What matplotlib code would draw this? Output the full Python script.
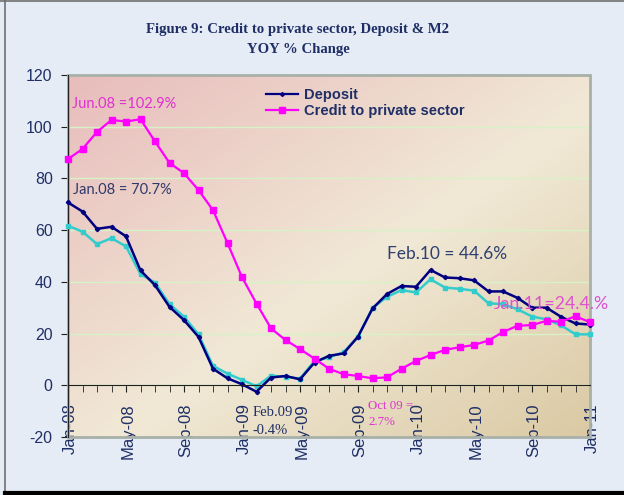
import matplotlib
matplotlib.use('Agg')
import matplotlib.pyplot as plt
import matplotlib.transforms as mtransforms
import numpy as np
from matplotlib.patches import Rectangle
from matplotlib.lines import Line2D

plt.rcParams['axes.unicode_minus'] = False

month_labels = ['Jan-08', 'Feb-08', 'Mar-08', 'Apr-08', 'May-08', 'Jun-08', 'Jul-08', 'Aug-08',
                'Sep-08', 'Oct-08', 'Nov-08', 'Dec-08', 'Jan-09', 'Feb-09', 'Mar-09', 'Apr-09',
                'May-09', 'Jun-09', 'Jul-09', 'Aug-09', 'Sep-09', 'Oct-09', 'Nov-09', 'Dec-09',
                'Jan-10', 'Feb-10', 'Mar-10', 'Apr-10', 'May-10', 'Jun-10', 'Jul-10', 'Aug-10',
                'Sep-10', 'Oct-10', 'Nov-10', 'Dec-10', 'Jan-11']
tick_labels = ['Jan-08', 'May-08', 'Sep-08', 'Jan-09', 'May-09', 'Sep-09',
               'Jan-10', 'May-10', 'Sep-10', 'Jan-11']

deposit = [70.7, 67.2, 60.5, 61.3, 57.6, 44.4, 38.7, 30.3, 25.2, 18.7, 6.4, 2.7, 0.4, -2.5,
           3.0, 3.6, 2.3, 8.8, 11.4, 12.3, 18.8, 29.7, 35.3, 38.4, 38.1, 44.6, 41.7, 41.4,
           40.6, 36.3, 36.3, 33.8, 30.0, 30.0, 26.5, 23.9, 23.5]
credit = [87.5, 91.4, 98.0, 102.6, 102.0, 102.9, 94.3, 86.0, 82.0, 75.5, 67.7, 55.0, 41.8,
          31.6, 22.0, 17.5, 14.0, 10.3, 6.4, 4.3, 3.6, 2.7, 3.1, 6.4, 9.4, 11.7, 13.7, 14.7,
          15.6, 17.3, 20.6, 23.0, 23.3, 24.9, 24.6, 26.7, 24.4]
m2 = [61.7, 59.4, 54.6, 56.9, 53.7, 43.0, 39.7, 31.4, 26.5, 19.7, 7.5, 4.5, 2.1, -0.4, 3.7,
      3.3, 2.6, 9.4, 10.8, 12.8, 18.8, 29.9, 34.2, 36.8, 35.9, 41.0, 37.8, 37.3, 36.6, 31.7,
      31.4, 29.4, 26.6, 25.5, 23.2, 19.7, 19.7]

NAVY = '#1F2F66'
MAG = '#E030D0'

fig = plt.figure(figsize=(6.24, 4.95), dpi=100)
fig.patch.set_facecolor('#E6ECF5')

W, H = 624, 495
ax = fig.add_axes([68 / W, 1 - 437 / H, (590 - 68) / W, (437 - 75) / H])
ax.set_facecolor('none')

# gradient background of plot area
n = 200
yy, xx = np.mgrid[0:1:n * 1j, 0:1:n * 1j]
t = (xx + yy) / 2.0
stops = np.array([0.0, 0.55, 1.0])
cols = np.array([[232, 188, 188], [241, 233, 214], [218, 201, 163]]) / 255.0
img = np.zeros((n, n, 3))
for c in range(3):
    img[..., c] = np.interp(t, stops, cols[:, c])
ax.imshow(img, extent=[0, 1, 0, 1], transform=ax.transAxes, aspect='auto',
          zorder=0, origin='upper')
ax.add_patch(Rectangle((0, 0), 1, 1, transform=ax.transAxes, fill=False,
                       edgecolor='#A8B0A8', lw=2.0, zorder=1, clip_on=False))

x = np.arange(len(month_labels))
ax.set_xlim(0, len(month_labels) - 1)
ax.set_ylim(-20, 120)

ax.yaxis.grid(True, color='#D6F2C6', lw=1.0, zorder=1)
ax.set_axisbelow(True)

ax.plot(x, m2, color='#33CCCC', lw=1.8, marker='s', ms=2.5, zorder=3, clip_on=False)
ax.plot(x, deposit, color='#000080', lw=1.8, marker='D', ms=2.2, zorder=4, clip_on=False)
ax.plot(x, credit, color='#FF00FF', lw=1.6, marker='s', ms=4, zorder=5, clip_on=False)

for s in ['top', 'right']:
    ax.spines[s].set_visible(False)
ax.spines['bottom'].set_position(('data', 0))
ax.spines['bottom'].set_color('#202020')
ax.spines['left'].set_color('#202020')
ax.spines['bottom'].set_zorder(6)

ax.set_xticks(x, minor=True)
ax.set_xticks([month_labels.index(m) for m in tick_labels])
ax.tick_params(axis='x', which='both', direction='out', length=5, color='#202020')
ax.tick_params(axis='x', which='major', pad=8)
ax.set_xticklabels(tick_labels, rotation=90, fontsize=12, color=NAVY,
                   family='Liberation Sans')
offset = mtransforms.ScaledTranslation(2 / 100, 0, fig.dpi_scale_trans)
for tk in ax.xaxis.get_major_ticks():
    tk.label1.set_transform(tk.label1.get_transform() + offset)
ax.set_yticks(np.arange(-20, 121, 20))
ax.tick_params(axis='y', length=5, color='#202020', labelsize=11.5, labelcolor=NAVY, pad=6)
for lab in ax.get_yticklabels():
    lab.set_family('Liberation Sans')

# legend
handles = [Line2D([], [], color='#000080', lw=1.6, marker='D', ms=2),
           Line2D([], [], color='#FF00FF', lw=1.6, marker='s', ms=4)]
leg = fig.legend(handles, ['Deposit', 'Credit to private sector'], loc='upper left',
                 bbox_to_anchor=(266 / W, 1 - 88 / H), frameon=False, handlelength=2.2,
                 handletextpad=0.4, labelspacing=0.12, borderpad=0, borderaxespad=0,
                 prop={'family': 'Liberation Sans', 'weight': 'bold', 'size': 10.5})
for txt in leg.get_texts():
    txt.set_color(NAVY)

# title
fig.text(298 / W, 1 - 29 / H, 'Figure 9: Credit to private sector, Deposit & M2',
         ha='center', va='center', family='Liberation Serif', weight='bold',
         fontsize=10.6, color=NAVY)
fig.text(298 / W, 1 - 50 / H, 'YOY % Change', ha='center', va='center',
         family='Liberation Serif', weight='bold', fontsize=10.6, color=NAVY)

# annotations
ax.text(0.28, 108.8, 'Jun.08 =102.9%', color=MAG, fontsize=10.5, family='Lato',
        ha='left', va='center', zorder=7)
ax.text(0.34, 75.5, 'Jan.08 = 70.7%', color='#2F3A6A', fontsize=10.5, family='Lato',
        ha='left', va='center', zorder=7)
ax.text(22.0, 50.7, 'Feb.10 = 44.6%', color='#2F3F70', fontsize=12.5, family='Lato',
        ha='left', va='center', zorder=7)
ax.text(29.4, 31.4, 'Jan.11=24.4.%', color='#E050D0', fontsize=12.8, family='Lato',
        ha='left', va='center', zorder=7, clip_on=False)
ax.text(12.7, -10.5, 'Feb.09', color=NAVY, fontsize=10.5, family='Liberation Serif',
        ha='left', va='center', zorder=7)
ax.text(12.7, -17.6, '-0.4%', color=NAVY, fontsize=10.5, family='Liberation Serif',
        ha='left', va='center', zorder=7)
ax.text(20.7, -8.1, 'Oct 09 =', color=MAG, fontsize=9.3, family='Liberation Serif',
        ha='left', va='center', zorder=7)
ax.text(20.7, -14.3, '2.7%', color=MAG, fontsize=9.3, family='Liberation Serif',
        ha='left', va='center', zorder=7)

# figure border
fig.add_artist(Line2D([5 / W, 5 / W], [0, 1], color='#707070', lw=1.2))
fig.add_artist(Line2D([0, 1], [1 - 0.5 / H, 1 - 0.5 / H], color='#707070', lw=1.2))
fig.add_artist(Line2D([5 / W, 1], [2.5 / H, 2.5 / H], color='black', lw=3))

fig.savefig('out.png', dpi=100, facecolor=fig.get_facecolor())
